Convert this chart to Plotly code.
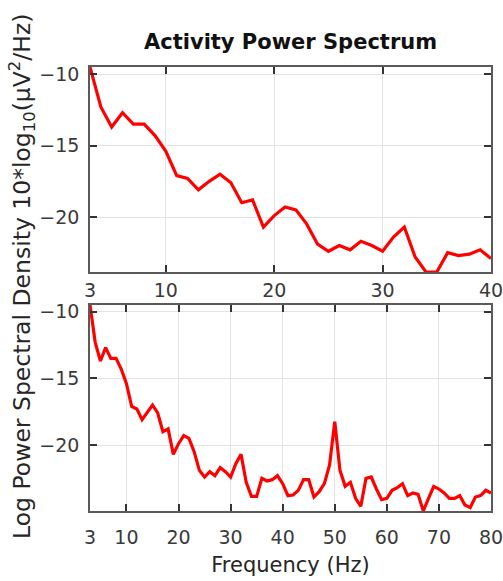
import plotly.graph_objects as go

freqs = list(range(3, 81))
power_db = [
    -9.5, -12.3, -13.7, -12.7, -13.5, -13.5, -14.3, -15.4, -17.1, -17.3,   # 3-12
    -18.1, -17.5, -17.0, -17.6, -19.0, -18.8, -20.7, -19.9, -19.3, -19.5,  # 13-22
    -20.5, -21.9, -22.4, -22.0, -22.3, -21.7, -22.0, -22.4, -21.4, -20.7,  # 23-32
    -22.8, -23.85, -23.85, -22.5, -22.7, -22.6, -22.3, -22.9, -23.8, -23.75,  # 33-42
    -23.4, -22.6, -22.6, -23.9, -23.5, -22.9, -21.5, -18.25, -21.9, -23.1,  # 43-52
    -22.8, -24.0, -24.6, -22.5, -22.4, -23.3, -24.1, -24.0, -23.4, -23.2,  # 53-62
    -22.9, -23.8, -23.6, -23.7, -24.95, -24.0, -23.1, -23.3, -23.6, -24.0,  # 63-72
    -24.0, -23.8, -24.5, -24.7, -23.9, -23.8, -23.4, -23.6,               # 73-80
]

top_xticks = [3, 10, 20, 30, 40]
bottom_xticks = [3, 10, 20, 30, 40, 50, 60, 70, 80]
yticks = [-20, -15, -10]
ytick_text = ["\u221220", "\u221215", "\u221210"]

title_text = "Activity Power Spectrum"
xlabel = "Frequency (Hz)"
ylabel = "Log Power Spectral Density 10*log<sub>10</sub>(μV<sup>2</sup>/Hz)"

FONT = "DejaVu Sans"
W, H = 503, 581
ML, MR, MT, MB = 90, 11.5, 67, 70
plot_h = H - MT - MB

def frac(px):
    return (H - MB - px) / plot_h

top_f = [(f, v) for f, v in zip(freqs, power_db) if f <= 40]
top_vals = [v for _, v in top_f]

fig = go.Figure()
fig.add_trace(go.Scatter(x=[f for f, _ in top_f], y=top_vals, mode="lines",
                         line=dict(color="#ff0000", width=3.2), xaxis="x", yaxis="y",
                         showlegend=False))
fig.add_trace(go.Scatter(x=freqs, y=power_db, mode="lines",
                         line=dict(color="#ff0000", width=3.2), xaxis="x2", yaxis="y2",
                         showlegend=False))

axis_common = dict(showgrid=True, gridcolor="#e3e3e3", gridwidth=1,
                   showline=True, linecolor="#5a5a5a", linewidth=1.5,
                   mirror="ticks", ticks="inside", ticklen=7, tickcolor="#333333",
                   tickwidth=1.5, zeroline=False, ticklabeloverflow="allow",
                   automargin=False,
                   tickfont=dict(family=FONT, size=19, color="#3a3a3a"))

fig.update_layout(
    width=W, height=H,
    margin=dict(l=ML, r=MR, t=MT, b=MB),
    paper_bgcolor="white", plot_bgcolor="white",
    xaxis=dict(domain=[0, 1], anchor="y", range=[3, 40], tickvals=top_xticks,
               ticktext=[str(t) for t in top_xticks], ticklabelstandoff=0, **axis_common),
    yaxis=dict(domain=[frac(272), 1.0], anchor="x",
               range=[min(top_vals), max(top_vals)], tickvals=yticks,
               ticktext=ytick_text, ticklabelstandoff=5, **axis_common),
    xaxis2=dict(domain=[0, 1], anchor="y2", range=[3, 80], tickvals=bottom_xticks,
                ticktext=[str(t) for t in bottom_xticks], ticklabelstandoff=8,
                title=dict(text=xlabel, font=dict(family=FONT, size=21, color="#262626"),
                           standoff=11),
                **axis_common),
    yaxis2=dict(domain=[0, frac(305)], anchor="x2",
                range=[min(power_db), max(power_db)], tickvals=yticks,
                ticktext=ytick_text, ticklabelstandoff=5, **axis_common),
    annotations=[
        dict(text="<b>" + title_text + "</b>", xref="paper", yref="paper",
             x=0.5, y=1.0, yshift=25, xanchor="center", yanchor="middle", showarrow=False,
             font=dict(family=FONT, size=21, color="#111111")),
        dict(text=ylabel, xref="paper", yref="paper", x=0, xshift=-(ML - 22),
             y=frac(277), textangle=-90, xanchor="center", yanchor="middle",
             showarrow=False, font=dict(family=FONT, size=23.5, color="#262626")),
    ],
)

fig.write_html("out.html")
